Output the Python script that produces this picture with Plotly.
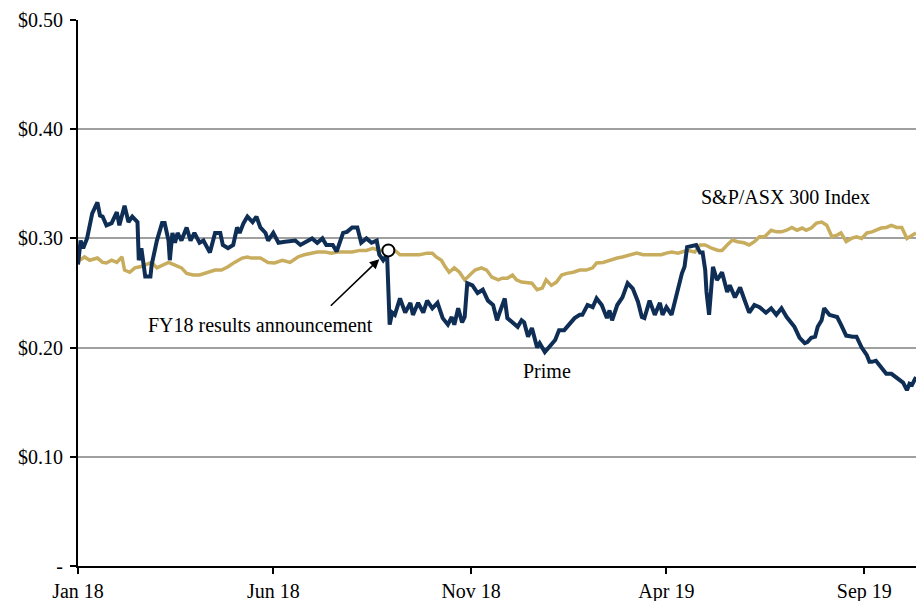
import pandas as pd
import plotly.graph_objects as go

# Day offsets from 2018-01-01 and share prices
prime_days = [0, 2, 4, 7, 11, 15, 17, 19, 22, 26, 30, 32, 36, 39, 42, 46, 47, 49, 52, 56,
              57, 61, 65, 67, 70, 71, 73, 75, 77, 80, 84, 87, 90, 94, 97, 100, 102, 106, 110, 112,
              116, 120, 123, 125, 128, 131, 135, 138, 141, 145, 147, 151, 155, 160, 168, 172, 175, 181, 185, 189,
              192, 197, 200, 205, 208, 212, 216, 219, 223, 227, 231, 233, 236, 239, 241, 243, 245, 249, 253, 257,
              259, 263, 267, 270, 274, 278, 282, 286, 289, 291, 294, 297, 299, 301, 305, 309, 313, 317, 321, 324,
              326, 330, 332, 336, 340, 343, 345, 348, 351, 355, 357, 361, 369, 372, 376, 384, 388, 390, 394, 398,
              401, 405, 409, 411, 413, 417, 421, 425, 429, 433, 436, 438, 442, 446, 450, 452, 455, 459, 463, 467,
              469, 471, 478, 481, 483, 485, 486, 488, 491, 494, 496, 498, 502, 504, 508, 512, 515, 519, 523, 527,
              532, 536, 540, 544, 548, 554, 558, 562, 564, 567, 570, 572, 575, 577, 581, 587, 590, 594, 599, 602,
              606, 610, 612, 614, 617, 621, 625, 629, 633, 635, 638, 641, 643, 645, 648]
prime_vals = [0.276, 0.298, 0.291, 0.300, 0.323, 0.333, 0.321, 0.320, 0.312, 0.314, 0.324, 0.312, 0.330, 0.315, 0.320, 0.315, 0.280, 0.291, 0.265, 0.265,
              0.276, 0.298, 0.314, 0.314, 0.298, 0.280, 0.305, 0.296, 0.305, 0.298, 0.310, 0.298, 0.305, 0.296, 0.298, 0.291, 0.287, 0.305, 0.305, 0.294,
              0.291, 0.294, 0.310, 0.305, 0.314, 0.320, 0.315, 0.320, 0.310, 0.305, 0.298, 0.305, 0.296, 0.297, 0.298, 0.294, 0.296, 0.300, 0.296, 0.300,
              0.294, 0.294, 0.288, 0.305, 0.306, 0.310, 0.310, 0.296, 0.300, 0.296, 0.298, 0.285, 0.280, 0.285, 0.221, 0.232, 0.230, 0.245, 0.232, 0.241,
              0.230, 0.241, 0.232, 0.243, 0.236, 0.241, 0.227, 0.221, 0.228, 0.221, 0.236, 0.223, 0.228, 0.259, 0.257, 0.250, 0.253, 0.243, 0.239, 0.225,
              0.232, 0.245, 0.227, 0.223, 0.219, 0.225, 0.223, 0.210, 0.218, 0.200, 0.204, 0.196, 0.207, 0.216, 0.216, 0.227, 0.230, 0.230, 0.239, 0.237,
              0.245, 0.239, 0.227, 0.234, 0.225, 0.239, 0.246, 0.259, 0.254, 0.242, 0.228, 0.227, 0.243, 0.230, 0.241, 0.230, 0.237, 0.230, 0.250, 0.268,
              0.274, 0.292, 0.294, 0.287, 0.287, 0.271, 0.251, 0.230, 0.274, 0.262, 0.265, 0.269, 0.251, 0.257, 0.246, 0.255, 0.245, 0.232, 0.239, 0.237,
              0.232, 0.236, 0.230, 0.236, 0.228, 0.219, 0.209, 0.204, 0.205, 0.209, 0.210, 0.219, 0.225, 0.236, 0.230, 0.228, 0.221, 0.211, 0.210, 0.210,
              0.200, 0.193, 0.187, 0.187, 0.188, 0.182, 0.176, 0.176, 0.172, 0.170, 0.168, 0.161, 0.167, 0.166, 0.173, 0.177, 0.182, 0.184]

index_days = [0, 5, 9, 15, 19, 22, 26, 30, 34, 36, 40, 44, 48, 52, 57, 61, 65, 70, 75, 80,
              84, 89, 94, 100, 106, 111, 116, 121, 127, 131, 134, 141, 147, 152, 158, 164, 170, 175, 181, 185,
              191, 196, 201, 208, 212, 218, 223, 228, 233, 240, 245, 249, 254, 259, 264, 270, 274, 277, 281, 284,
              287, 291, 295, 299, 303, 307, 312, 316, 320, 325, 328, 332, 336, 339, 343, 348, 351, 355, 359, 362,
              366, 370, 374, 378, 383, 388, 393, 398, 401, 406, 411, 417, 421, 427, 432, 437, 442, 447, 451, 455,
              459, 464, 468, 471, 477, 481, 485, 490, 495, 498, 502, 506, 510, 515, 519, 523, 527, 531, 536, 540,
              544, 548, 552, 556, 560, 563, 567, 571, 575, 579, 583, 587, 590, 594, 598, 602, 606, 610, 614, 617,
              621, 625, 629, 633, 637, 641, 645, 648]
index_vals = [0.279, 0.283, 0.280, 0.282, 0.278, 0.2775, 0.280, 0.278, 0.283, 0.271, 0.269, 0.273, 0.274, 0.2755, 0.278, 0.273, 0.2755, 0.278, 0.2755, 0.273,
              0.268, 0.2665, 0.2665, 0.269, 0.271, 0.271, 0.274, 0.278, 0.282, 0.283, 0.282, 0.282, 0.278, 0.2775, 0.280, 0.278, 0.283, 0.285, 0.2865, 0.2875,
              0.2875, 0.2865, 0.2875, 0.2875, 0.2875, 0.289, 0.289, 0.291, 0.289, 0.289, 0.289, 0.285, 0.285, 0.285, 0.285, 0.2865, 0.2865, 0.283, 0.280, 0.274,
              0.269, 0.273, 0.269, 0.262, 0.2665, 0.271, 0.273, 0.271, 0.2645, 0.262, 0.2635, 0.2635, 0.2665, 0.262, 0.260, 0.259, 0.259, 0.253, 0.2545, 0.262,
              0.257, 0.260, 0.2665, 0.268, 0.269, 0.271, 0.271, 0.273, 0.2775, 0.278, 0.280, 0.282, 0.283, 0.285, 0.2865, 0.285, 0.285, 0.285, 0.285, 0.2865,
              0.2875, 0.2865, 0.2875, 0.289, 0.2875, 0.294, 0.294, 0.291, 0.289, 0.289, 0.294, 0.2985, 0.297, 0.296, 0.294, 0.297, 0.3015, 0.3015, 0.3075, 0.306,
              0.306, 0.3075, 0.310, 0.3075, 0.3095, 0.3075, 0.3095, 0.314, 0.315, 0.312, 0.3015, 0.303, 0.305, 0.297, 0.300, 0.3015, 0.300, 0.305, 0.306, 0.3075,
              0.3095, 0.310, 0.312, 0.310, 0.310, 0.300, 0.303, 0.305]

event_day = [240]
event_val = [0.289]

y_ticks = [0, 0.1, 0.2, 0.3, 0.4, 0.5]
y_labels = ["-", "$0.10", "$0.20", "$0.30", "$0.40", "$0.50"]

start = pd.Timestamp("2018-01-01")
to_dates = lambda d: [start + pd.Timedelta(days=int(x)) for x in d]

NAVY = "#0F2E55"
GOLD = "#C8AD5E"
FONT = "Liberation Serif"

fig = go.Figure()
fig.add_trace(go.Scatter(x=to_dates(index_days), y=index_vals, mode="lines",
                         line=dict(color=GOLD, width=3.5), name="S&P/ASX 300 Index"))
fig.add_trace(go.Scatter(x=to_dates(prime_days), y=prime_vals, mode="lines",
                         line=dict(color=NAVY, width=4), name="Prime"))
fig.add_trace(go.Scatter(x=to_dates(event_day), y=event_val, mode="markers",
                         marker=dict(size=12, color="white", line=dict(color="black", width=2)),
                         name="FY18 results"))

# arrow pointing to the results announcement
fig.add_annotation(x=to_dates([233])[0], y=0.281, xref="x", yref="y", text="",
                   showarrow=True, arrowhead=2, arrowsize=1.2, arrowwidth=1.6,
                   arrowcolor="black", ax=-50, ay=48, standoff=0)
fig.add_annotation(x=to_dates([141])[0], y=0.2207, xref="x", yref="y",
                   text="FY18 results announcement", showarrow=False,
                   font=dict(family=FONT, size=20, color="black"))
fig.add_annotation(x=to_dates([363])[0], y=0.1786, xref="x", yref="y", text="Prime",
                   showarrow=False, font=dict(family=FONT, size=20, color="black"))
fig.add_annotation(x=to_dates([547])[0], y=0.338, xref="x", yref="y", text="S&P/ASX 300 Index",
                   showarrow=False, font=dict(family=FONT, size=20, color="black"))

fig.update_layout(
    width=916, height=601,
    margin=dict(l=78, r=0, t=20, b=35),
    paper_bgcolor="white", plot_bgcolor="white",
    showlegend=False,
    font=dict(family=FONT, size=20, color="black"),
)
fig.update_xaxes(type="date", range=[start, start + pd.Timedelta(days=648)],
                 tick0="2018-01-01", dtick="M5", tickformat="%b %y",
                 showline=True, linecolor="black", linewidth=2,
                 ticks="outside", ticklen=6, tickwidth=1.5, tickcolor="black",
                 automargin=False,
                 showgrid=False, zeroline=False, tickfont=dict(family=FONT, size=20))
fig.update_yaxes(range=[0, 0.5], tickvals=y_ticks, ticktext=y_labels,
                 showline=True, linecolor="black", linewidth=2,
                 ticks="outside", ticklen=6, tickwidth=1.5, tickcolor="black",
                 ticklabelstandoff=3, automargin=False,
                 showgrid=True, gridcolor="#A0A0A0", gridwidth=1.5, zeroline=False,
                 tickfont=dict(family=FONT, size=20))

fig.write_html("out.html")
